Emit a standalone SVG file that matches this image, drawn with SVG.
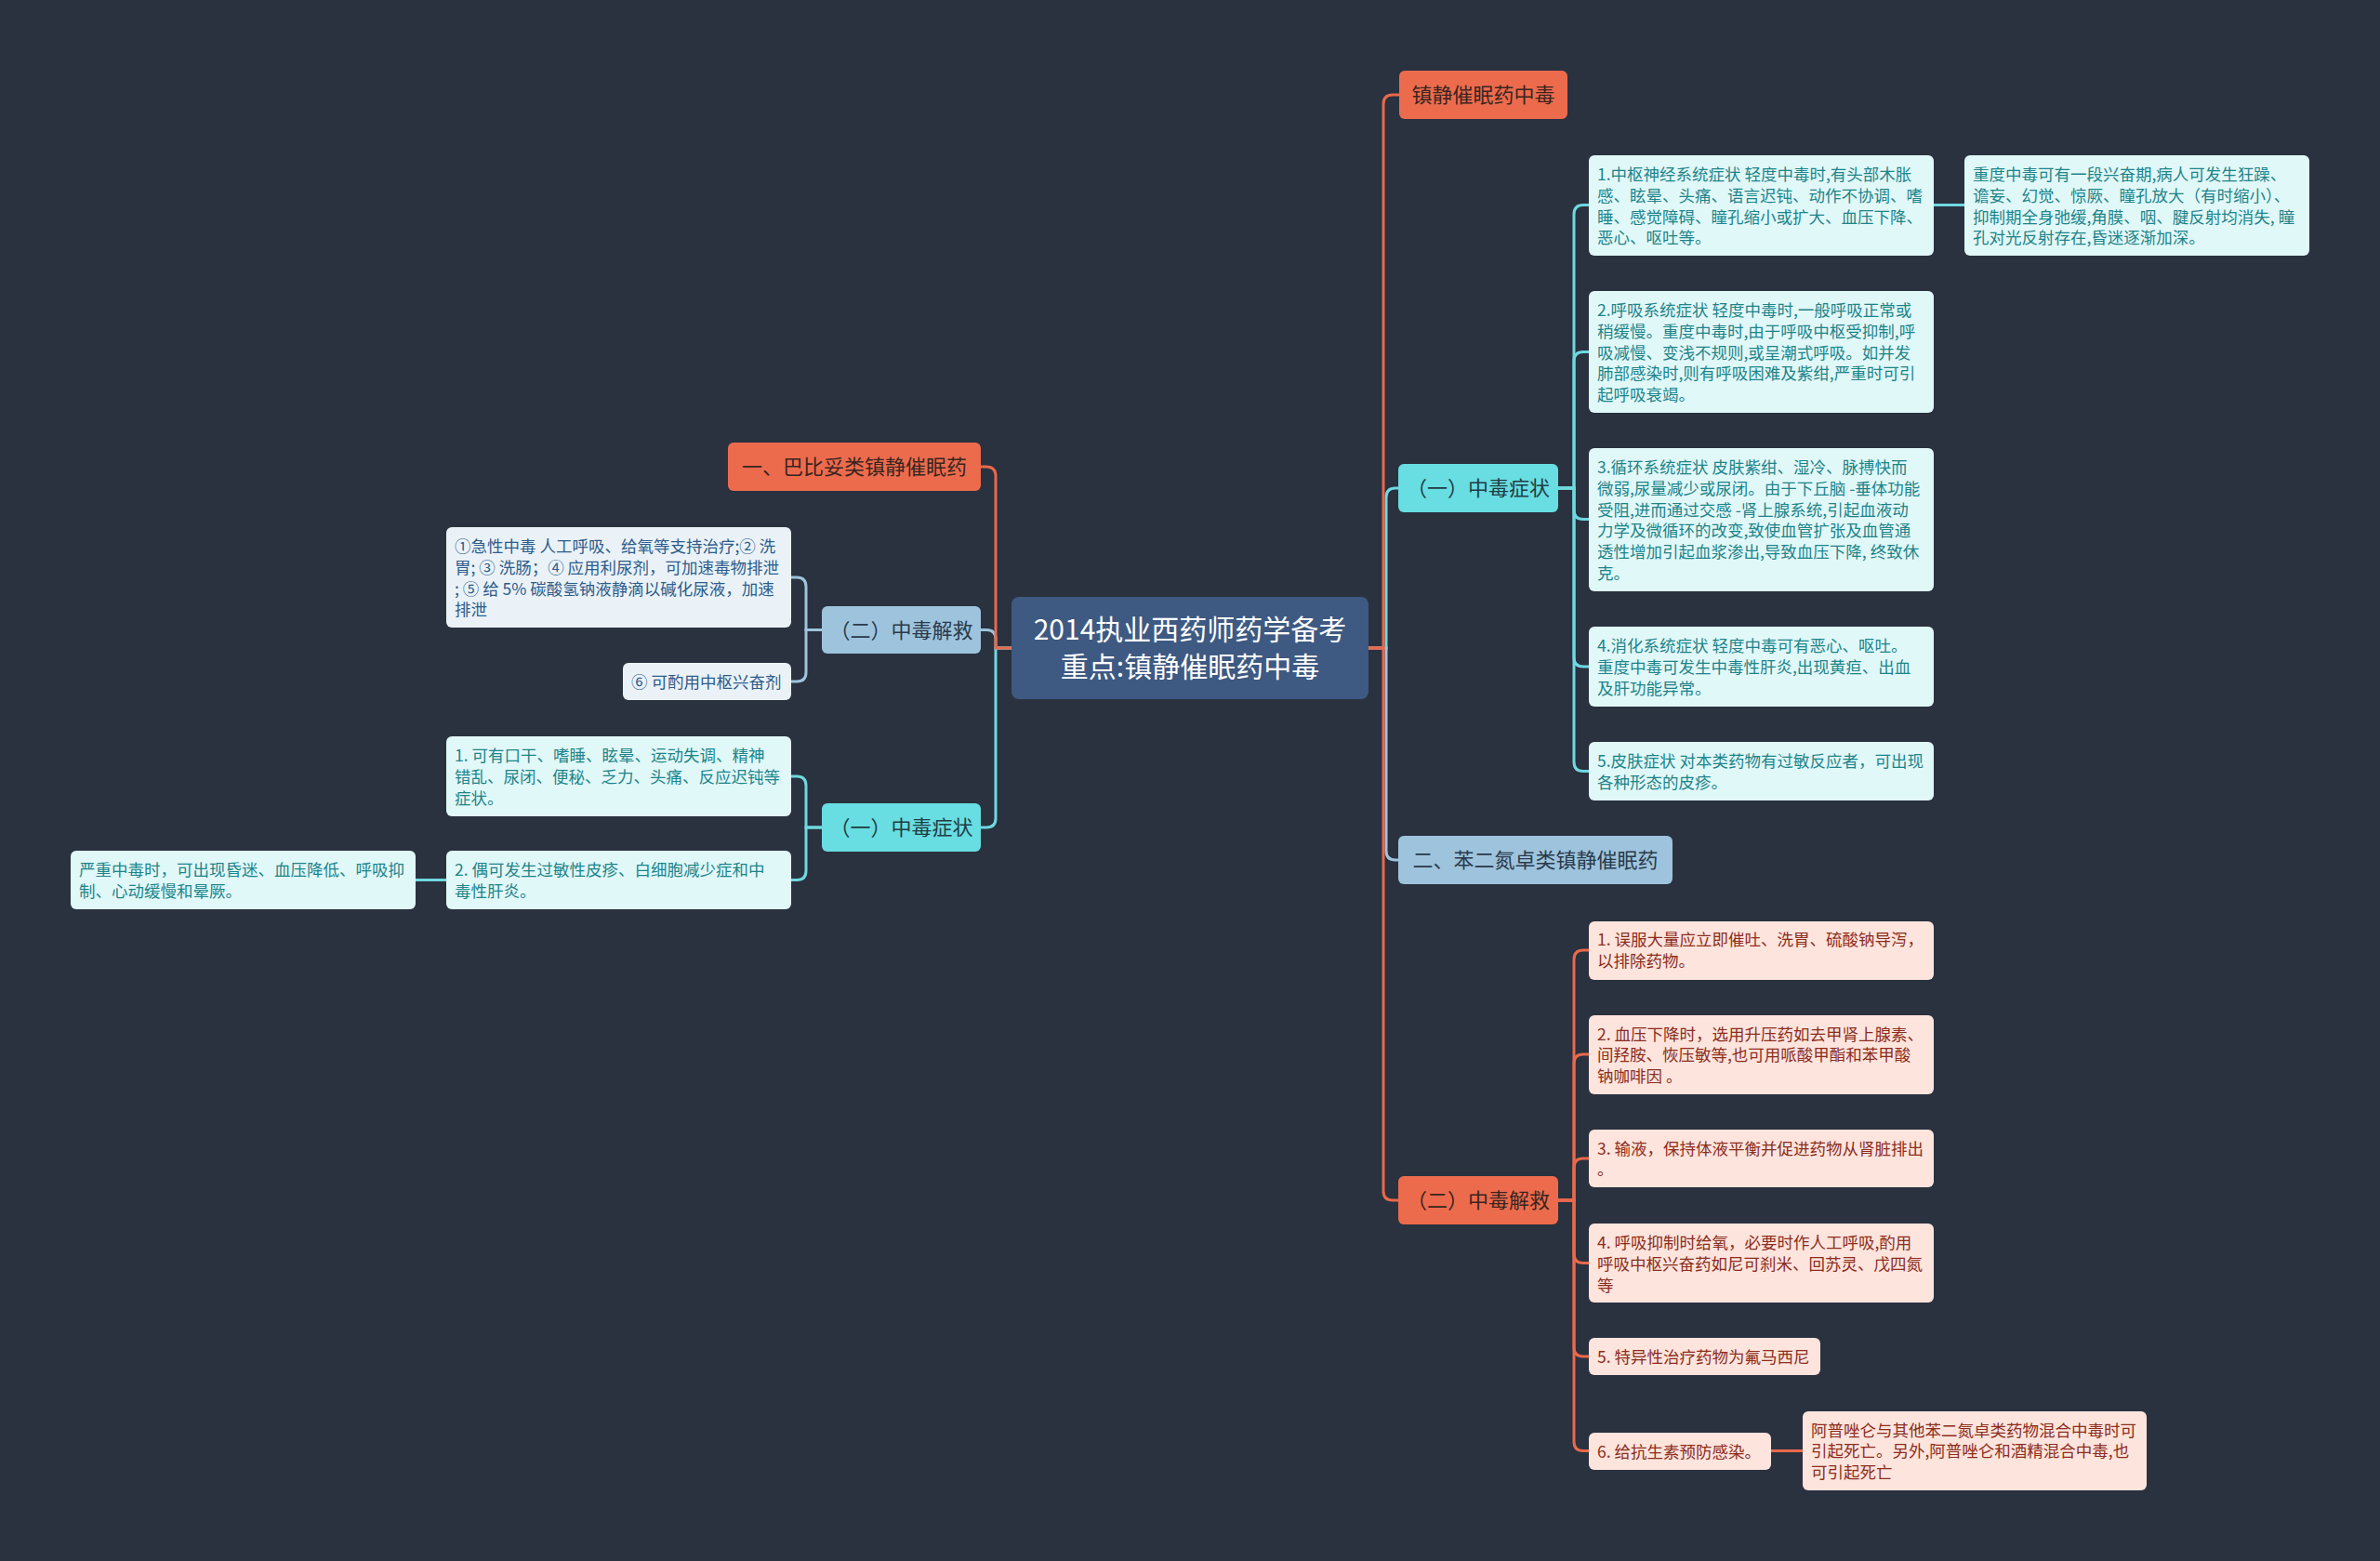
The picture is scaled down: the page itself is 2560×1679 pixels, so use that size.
<svg xmlns="http://www.w3.org/2000/svg" width="2560" height="1679" viewBox="0 0 2560 1679">
<style>
text{font-family:"Noto Sans CJK SC","Noto Sans",sans-serif}
.title{font-size:30px;fill:#ffffff;text-anchor:middle}
.br{font-size:22px;text-anchor:middle}
.sm{font-size:17.5px}
.cOr{fill:#ed6b4d}
.cCy{fill:#68dde2}
.cLb{fill:#9ec4dd}
.bCy{fill:#e1f8f8}
.bOr{fill:#fde4dd}
.bLb{fill:#eaf2f8}
.tOr{fill:#3a2520}
.tCy{fill:#1f3d44}
.tLb{fill:#2a3a4c}
.xCy{fill:#1d848a}
.xOr{fill:#8c2d1c}
.xLb{fill:#2d5c8a}
.ln{fill:none;stroke-width:3}
.lOr{stroke:#e8694b}
.lCy{stroke:#6fd8e0}
.lLb{stroke:#9ec4dd}
</style>
<rect width="2560" height="1679" fill="#2a313f"/>
<g id="connectors">
<path class="ln lCy" d="M1472,697 H1491 V535 Q1491,525 1501,525 H1504"/>
<path class="ln lLb" d="M1472,697 H1491 V915 Q1491,925 1501,925 H1504"/>
<path class="ln lOr" d="M1472,697 H1488 V112 Q1488,102 1498,102 H1505"/>
<path class="ln lOr" d="M1472,697 H1488 V1281 Q1488,1291 1498,1291 H1504"/>
<path class="ln lCy" d="M1676,525 H1693 V230.5 Q1693,220.5 1703,220.5 H1709"/>
<path class="ln lCy" d="M1676,525 H1693 V388.5 Q1693,378.5 1703,378.5 H1709"/>
<path class="ln lCy" d="M1676,525 H1693 V548.5 Q1693,558.5 1703,558.5 H1709"/>
<path class="ln lCy" d="M1676,525 H1693 V707 Q1693,717 1703,717 H1709"/>
<path class="ln lCy" d="M1676,525 H1693 V819.5 Q1693,829.5 1703,829.5 H1709"/>
<path class="ln lCy" d="M2080,220.5 H2113"/>
<path class="ln lOr" d="M1676,1291 H1693 V1032 Q1693,1022 1703,1022 H1709"/>
<path class="ln lOr" d="M1676,1291 H1693 V1144 Q1693,1134 1703,1134 H1709"/>
<path class="ln lOr" d="M1676,1291 H1693 V1256 Q1693,1246 1703,1246 H1709"/>
<path class="ln lOr" d="M1676,1291 H1693 V1348.5 Q1693,1358.5 1703,1358.5 H1709"/>
<path class="ln lOr" d="M1676,1291 H1693 V1449 Q1693,1459 1703,1459 H1709"/>
<path class="ln lOr" d="M1676,1291 H1693 V1550.5 Q1693,1560.5 1703,1560.5 H1709"/>
<path class="ln lOr" d="M1905,1560.5 H1939"/>
<path class="ln lCy" d="M1088,697 H1071 V880 Q1071,890 1061,890 H1055"/>
<path class="ln lLb" d="M1088,697 H1071 V687.5 Q1071,677.5 1061,677.5 H1055"/>
<path class="ln lOr" d="M1088,697 H1071 V512 Q1071,502 1061,502 H1055"/>
<path class="ln lLb" d="M884,677.5 H867 V631 Q867,621 857,621 H851"/>
<path class="ln lLb" d="M884,677.5 H867 V723 Q867,733 857,733 H851"/>
<path class="ln lCy" d="M884,890 H867 V845 Q867,835 857,835 H851"/>
<path class="ln lCy" d="M884,890 H867 V936.5 Q867,946.5 857,946.5 H851"/>
<path class="ln lCy" d="M480,946.5 H447"/>
</g>
<g id="center">
<rect x="1088" y="642" width="384" height="110" rx="8" fill="#3e5a82"/>
<text class="title" x="1280" y="688">2014执业西药师药学备考</text>
<text class="title" x="1280" y="728">重点:镇静催眠药中毒</text>
</g>
<g id="n-zhenjing">
<rect class="cOr" x="1505" y="76" width="181" height="52" rx="6"/>
<text class="br tOr" x="1595.5" y="110">镇静催眠药中毒</text>
</g>
<g id="n-r-zhengzhuang">
<rect class="cCy" x="1504" y="499" width="172" height="52" rx="6"/>
<text class="br tCy" x="1590" y="533">（一）中毒症状</text>
</g>
<g id="n-benerdanzhuo">
<rect class="cLb" x="1504" y="899" width="295" height="52" rx="6"/>
<text class="br tLb" x="1651.5" y="933">二、苯二氮卓类镇静催眠药</text>
</g>
<g id="n-r-jiejiu">
<rect class="cOr" x="1504" y="1265" width="172" height="52" rx="6"/>
<text class="br tOr" x="1590" y="1299">（二）中毒解救</text>
</g>
<g id="n-c1">
<rect class="bCy" x="1709" y="167" width="371" height="108" rx="6"/>
<text class="sm xCy" x="1718" y="194">1.中枢神经系统症状 轻度中毒时,有头部木胀</text>
<text class="sm xCy" x="1718" y="216.8">感、眩晕、头痛、语言迟钝、动作不协调、嗜</text>
<text class="sm xCy" x="1718" y="239.6">睡、感觉障碍、瞳孔缩小或扩大、血压下降、</text>
<text class="sm xCy" x="1718" y="262.4">恶心、呕吐等。</text>
</g>
<g id="n-c1r">
<rect class="bCy" x="2113" y="167" width="371" height="108" rx="6"/>
<text class="sm xCy" x="2122" y="194">重度中毒可有一段兴奋期,病人可发生狂躁、</text>
<text class="sm xCy" x="2122" y="216.8">谵妄、幻觉、惊厥、瞳孔放大（有时缩小）、</text>
<text class="sm xCy" x="2122" y="239.6">抑制期全身弛缓,角膜、咽、腱反射均消失, 瞳</text>
<text class="sm xCy" x="2122" y="262.4">孔对光反射存在,昏迷逐渐加深。</text>
</g>
<g id="n-c2">
<rect class="bCy" x="1709" y="313" width="371" height="131" rx="6"/>
<text class="sm xCy" x="1718" y="340">2.呼吸系统症状 轻度中毒时,一般呼吸正常或</text>
<text class="sm xCy" x="1718" y="362.8">稍缓慢。重度中毒时,由于呼吸中枢受抑制,呼</text>
<text class="sm xCy" x="1718" y="385.6">吸减慢、变浅不规则,或呈潮式呼吸。如并发</text>
<text class="sm xCy" x="1718" y="408.4">肺部感染时,则有呼吸困难及紫绀,严重时可引</text>
<text class="sm xCy" x="1718" y="431.2">起呼吸衰竭。</text>
</g>
<g id="n-c3">
<rect class="bCy" x="1709" y="482" width="371" height="154" rx="6"/>
<text class="sm xCy" x="1718" y="509">3.循环系统症状 皮肤紫绀、湿冷、脉搏快而</text>
<text class="sm xCy" x="1718" y="531.8">微弱,尿量减少或尿闭。由于下丘脑 -垂体功能</text>
<text class="sm xCy" x="1718" y="554.6">受阻,进而通过交感 -肾上腺系统,引起血液动</text>
<text class="sm xCy" x="1718" y="577.4">力学及微循环的改变,致使血管扩张及血管通</text>
<text class="sm xCy" x="1718" y="600.2">透性增加引起血浆渗出,导致血压下降, 终致休</text>
<text class="sm xCy" x="1718" y="623">克。</text>
</g>
<g id="n-c4">
<rect class="bCy" x="1709" y="674" width="371" height="86" rx="6"/>
<text class="sm xCy" x="1718" y="701">4.消化系统症状 轻度中毒可有恶心、呕吐。</text>
<text class="sm xCy" x="1718" y="723.8">重度中毒可发生中毒性肝炎,出现黄疸、出血</text>
<text class="sm xCy" x="1718" y="746.6">及肝功能异常。</text>
</g>
<g id="n-c5">
<rect class="bCy" x="1709" y="798" width="371" height="63" rx="6"/>
<text class="sm xCy" x="1718" y="825">5.皮肤症状 对本类药物有过敏反应者，可出现</text>
<text class="sm xCy" x="1718" y="847.8">各种形态的皮疹。</text>
</g>
<g id="n-o1">
<rect class="bOr" x="1709" y="991" width="371" height="63" rx="6"/>
<text class="sm xOr" x="1718" y="1017">1. 误服大量应立即催吐、洗胃、硫酸钠导泻，</text>
<text class="sm xOr" x="1718" y="1039.8">以排除药物。</text>
</g>
<g id="n-o2">
<rect class="bOr" x="1709" y="1092" width="371" height="85" rx="6"/>
<text class="sm xOr" x="1718" y="1118.5">2. 血压下降时，选用升压药如去甲肾上腺素、</text>
<text class="sm xOr" x="1718" y="1141.3">间羟胺、恢压敏等,也可用哌酸甲酯和苯甲酸</text>
<text class="sm xOr" x="1718" y="1164.1">钠咖啡因 。</text>
</g>
<g id="n-o3">
<rect class="bOr" x="1709" y="1215" width="371" height="62" rx="6"/>
<text class="sm xOr" x="1718" y="1241.5">3. 输液，保持体液平衡并促进药物从肾脏排出</text>
<text class="sm xOr" x="1718" y="1264.3">。</text>
</g>
<g id="n-o4">
<rect class="bOr" x="1709" y="1316" width="371" height="85" rx="6"/>
<text class="sm xOr" x="1718" y="1343">4. 呼吸抑制时给氧，必要时作人工呼吸,酌用</text>
<text class="sm xOr" x="1718" y="1365.8">呼吸中枢兴奋药如尼可刹米、回苏灵、戊四氮</text>
<text class="sm xOr" x="1718" y="1388.6">等</text>
</g>
<g id="n-o5">
<rect class="bOr" x="1709" y="1439" width="249" height="40" rx="6"/>
<text class="sm xOr" x="1718" y="1466">5. 特异性治疗药物为氟马西尼</text>
</g>
<g id="n-o6">
<rect class="bOr" x="1709" y="1541" width="196" height="40" rx="6"/>
<text class="sm xOr" x="1718" y="1567.5">6. 给抗生素预防感染。</text>
</g>
<g id="n-o6r">
<rect class="bOr" x="1939" y="1518" width="370" height="85" rx="6"/>
<text class="sm xOr" x="1948" y="1544.5">阿普唑仑与其他苯二氮卓类药物混合中毒时可</text>
<text class="sm xOr" x="1948" y="1567.3">引起死亡。另外,阿普唑仑和酒精混合中毒,也</text>
<text class="sm xOr" x="1948" y="1590.1">可引起死亡</text>
</g>
<g id="n-babituo">
<rect class="cOr" x="783" y="476" width="272" height="52" rx="6"/>
<text class="br tOr" x="919" y="510">一、巴比妥类镇静催眠药</text>
</g>
<g id="n-l-jiejiu">
<rect class="cLb" x="884" y="652" width="171" height="51" rx="6"/>
<text class="br tLb" x="969.5" y="685.5">（二）中毒解救</text>
</g>
<g id="n-l-zhengzhuang">
<rect class="cCy" x="884" y="864" width="171" height="52" rx="6"/>
<text class="br tCy" x="969.5" y="898">（一）中毒症状</text>
</g>
<g id="n-l1">
<rect class="bLb" x="480" y="567" width="371" height="108" rx="6"/>
<text class="sm xLb" x="489" y="594">①急性中毒 人工呼吸、给氧等支持治疗;② 洗</text>
<text class="sm xLb" x="489" y="616.8">胃; ③ 洗肠；④ 应用利尿剂，可加速毒物排泄</text>
<text class="sm xLb" x="489" y="639.6">; ⑤ 给 5% 碳酸氢钠液静滴以碱化尿液，加速</text>
<text class="sm xLb" x="489" y="662.4">排泄</text>
</g>
<g id="n-l2">
<rect class="bLb" x="670" y="713" width="181" height="40" rx="6"/>
<text class="sm xLb" x="679" y="739.5">⑥ 可酌用中枢兴奋剂</text>
</g>
<g id="n-l3">
<rect class="bCy" x="480" y="792" width="371" height="86" rx="6"/>
<text class="sm xCy" x="489" y="819">1. 可有口干、嗜睡、眩晕、运动失调、精神</text>
<text class="sm xCy" x="489" y="841.8">错乱、尿闭、便秘、乏力、头痛、反应迟钝等</text>
<text class="sm xCy" x="489" y="864.6">症状。</text>
</g>
<g id="n-l4">
<rect class="bCy" x="480" y="915" width="371" height="63" rx="6"/>
<text class="sm xCy" x="489" y="942">2. 偶可发生过敏性皮疹、白细胞减少症和中</text>
<text class="sm xCy" x="489" y="964.8">毒性肝炎。</text>
</g>
<g id="n-l5">
<rect class="bCy" x="76" y="915" width="371" height="63" rx="6"/>
<text class="sm xCy" x="85" y="942">严重中毒时，可出现昏迷、血压降低、呼吸抑</text>
<text class="sm xCy" x="85" y="964.8">制、心动缓慢和晕厥。</text>
</g>
</svg>
